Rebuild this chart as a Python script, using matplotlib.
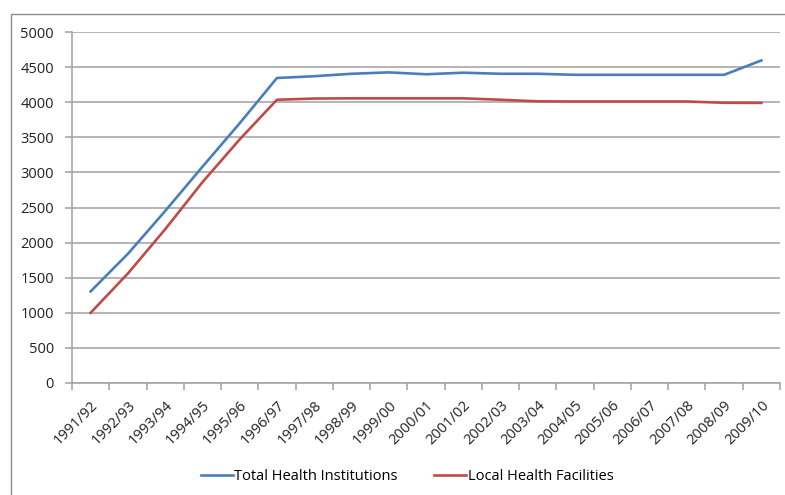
import numpy as np
import matplotlib.pyplot as plt
import matplotlib.transforms as mtransforms
from matplotlib.patches import Rectangle

plt.rcParams['font.family'] = ['Open Sans', 'DejaVu Sans']

# data
years = ['1991/92', '1992/93', '1993/94', '1994/95', '1995/96', '1996/97',
         '1997/98', '1998/99', '1999/00', '2000/01', '2001/02', '2002/03',
         '2003/04', '2004/05', '2005/06', '2006/07', '2007/08', '2008/09',
         '2009/10']
total_health = [1305, 1840, 2450, 3080, 3700, 4345, 4370, 4405, 4425, 4398,
                4420, 4405, 4405, 4390, 4390, 4390, 4390, 4390, 4595]
local_health = [1000, 1560, 2190, 2860, 3470, 4035, 4052, 4055, 4055, 4055,
                4055, 4035, 4012, 4010, 4010, 4010, 4010, 3992, 3990]

grid_col = '#a0a0a0'
blue = '#4a7ebb'
red = '#be4b48'

fig = plt.figure(figsize=(7.85, 4.95), dpi=100)
ax = fig.add_axes([72/785, 1 - 383/495, (780-72)/785, (383-32)/495])

x = np.arange(len(years))
ax.plot(x, total_health, color=blue, lw=1.9, label='Total Health Institutions')
ax.plot(x, local_health, color=red, lw=1.9, label='Local Health Facilities')

ax.set_xlim(-0.5, len(years) - 0.5)
ax.set_ylim(0, 5000)
ax.set_yticks(np.arange(0, 5001, 500))
ax.yaxis.grid(True, color=grid_col, lw=1.1)
ax.set_axisbelow(True)

# category boundaries get the tick marks, labels sit under the centres
ax.set_xticks(np.arange(-0.5, len(years)), minor=False)
ax.set_xticklabels([])
ax.set_xticks(x, minor=True)
ax.set_xticklabels(years, minor=True, rotation=45, ha='right',
                   rotation_mode='anchor', fontsize=10.5, color='#222222')
shift = mtransforms.ScaledTranslation(-3/100, 0, fig.dpi_scale_trans)
for lab in ax.get_xticklabels(minor=True):
    lab.set_transform(lab.get_transform() + shift)
ax.tick_params(axis='x', which='minor', length=0, pad=11)
ax.tick_params(axis='x', which='major', length=5, color=grid_col, width=1.1)
ax.tick_params(axis='y', length=5, color=grid_col, width=1.1, labelsize=10.5,
               labelcolor='#222222', pad=8)

for s in ['top', 'right']:
    ax.spines[s].set_visible(False)
for s in ['left', 'bottom']:
    ax.spines[s].set_color(grid_col)
    ax.spines[s].set_linewidth(1.1)

ax.legend(loc='center', bbox_to_anchor=(407/785, 1 - 477/495),
          bbox_transform=fig.transFigure, ncol=2, frameon=False,
          fontsize=10.5, handlelength=2.2, handletextpad=0.1,
          columnspacing=2.5)

# outer chart frame (only top and left edges show)
fig.patches.append(Rectangle((11/785, -0.1), 1.2, 1 - 14/495 + 0.1,
                             transform=fig.transFigure, fill=False,
                             edgecolor='#8c8c8c', lw=1.0))

plt.savefig('out.png', dpi=100)
